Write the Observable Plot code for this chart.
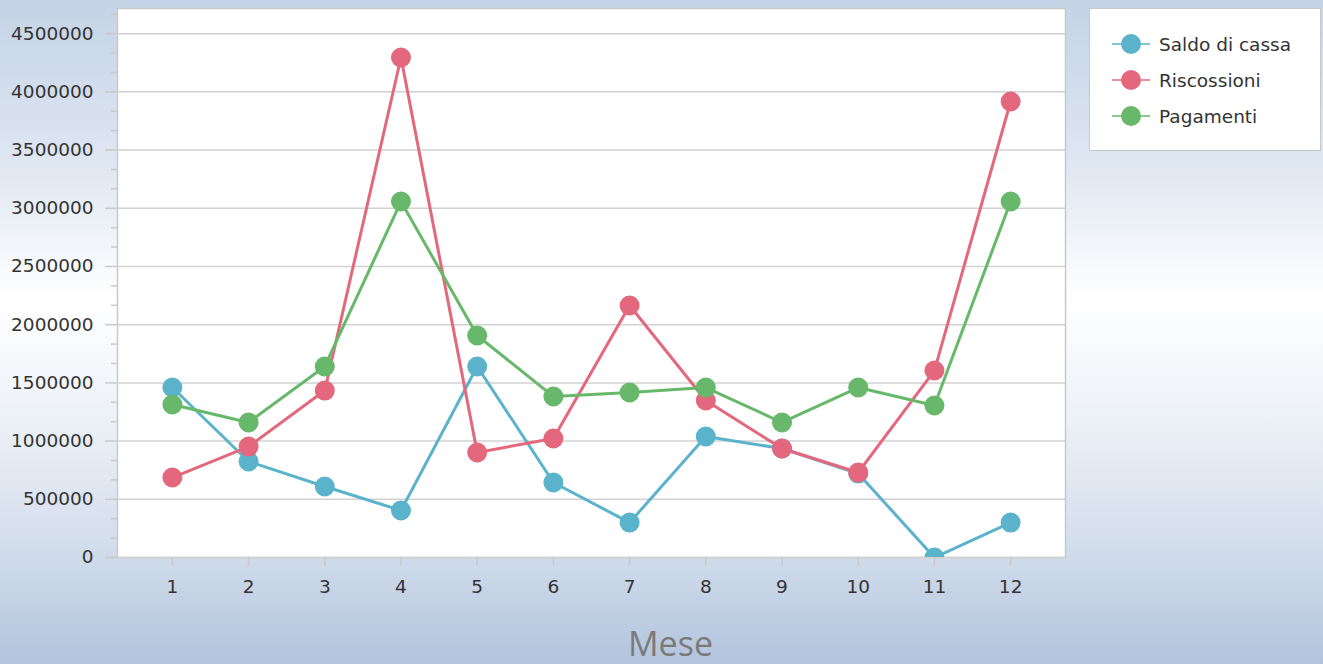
<!DOCTYPE html>
<html>
<head>
<meta charset="utf-8">
<script src="https://cdn.jsdelivr.net/npm/d3@7"></script>
<script src="https://cdn.jsdelivr.net/npm/@observablehq/plot@0.6"></script>
<style>
  html, body { margin: 0; padding: 0; }
  body {
    width: 1323px; height: 664px; overflow: hidden; position: relative;
    background: linear-gradient(to bottom, #c4d3e6 0%, #dfe7f2 25%, #ffffff 45%, #eef2f8 62%, #d3deec 82%, #b2c4dd 100%);
    font-family: "DejaVu Sans", sans-serif;
  }
  #chart { position: absolute; left: 0; top: 0; }
  #legend {
    position: absolute; left: 1089px; top: 8px; width: 232px; height: 143px;
    background: #fff; border: 1px solid #c8c8c8; box-sizing: border-box;
  }
  .row { position: absolute; left: 22px; height: 24px; display: flex; align-items: center; }
  .row span { margin-left: 9px; font-size: 18.5px; color: #333; }
</style>
</head>
<body>
<div id="chart"></div>
<div id="legend"></div>
<script>
const months = [1,2,3,4,5,6,7,8,9,10,11,12];
const seriesNames = ["Saldo di cassa", "Riscossioni", "Pagamenti"];
const seriesColors = ["#5bb3cb", "#e4687d", "#67b86a"];
const saldoDiCassa = [1460000, 825000, 610000, 404000, 1641000, 644000, 300000, 1039000, 936000, 721000, 0, 300000];
const riscossioni  = [687000, 953000, 1434000, 4295000, 902000, 1022000, 2165000, 1349000, 936000, 730000, 1606000, 3917000];
const pagamenti    = [1314000, 1160000, 1641000, 3058000, 1907000, 1383000, 1417000, 1460000, 1160000, 1460000, 1306000, 3058000];
const yTicks = [0, 500000, 1000000, 1500000, 2000000, 2500000, 3000000, 3500000, 4000000, 4500000];
const yMinorTicks = d3.range(0, 4700000, 500000/3).map(Math.round).filter(v => v % 500000 !== 0 && Math.abs(v % 500000 - 500000) > 2);
const xLabel = "Mese";

const seriesValues = [saldoDiCassa, riscossioni, pagamenti];
const data = seriesNames.map((name, i) => months.map((m, j) => ({mese: m, value: seriesValues[i][j], serie: name})));

const seriesMarks = data.flatMap((d, i) => [
  Plot.line(d, {x: "mese", y: "value", stroke: seriesColors[i], strokeWidth: 3, clip: "frame"}),
  Plot.dot(d, {x: "mese", y: "value", fill: seriesColors[i], r: 10, clip: "frame"})
]);

const chart = Plot.plot({
  width: 1323, height: 664,
  marginLeft: 117, marginTop: 8, marginRight: 258, marginBottom: 107,
  style: {background: "transparent", fontFamily: "'DejaVu Sans', sans-serif", fontSize: "18.5px", color: "#333"},
  x: {domain: [0.28, 12.72]},
  y: {domain: [0, 4716000]},
  marks: [
    Plot.frame({fill: "white", stroke: "#c9c9c9", strokeWidth: 1.5}),
    Plot.gridY(yTicks, {stroke: "#d2d2d2", strokeOpacity: 1, strokeWidth: 1.5}),
    Plot.axisY(yTicks, {tickSize: 12, tickPadding: 12, stroke: "#c9c9c9", strokeWidth: 1.5, fill: "#333", tickFormat: d => String(d), label: null}),
    Plot.axisY(yMinorTicks, {tickSize: 6, stroke: "#c9c9c9", strokeWidth: 1.5, text: null, label: null}),
    Plot.axisX(months, {tickSize: 9, tickPadding: 13, stroke: "#c9c9c9", strokeWidth: 1.5, fill: "#333", tickFormat: d => String(d), label: null}),
    Plot.ruleY([0], {x1: 0.28 - 0.16, x2: 0.28, stroke: "#c9c9c9", strokeWidth: 1.5}),
    ...seriesMarks,
    Plot.text([xLabel], {frameAnchor: "bottom", dx: 79, dy: 98, fontSize: 34, fill: "#7a7a7a", lineAnchor: "bottom", fontFamily: "'Open Sans', sans-serif"})
  ]
});
document.getElementById("chart").appendChild(chart);

const legend = document.getElementById("legend");
seriesNames.forEach((name, i) => {
  const row = document.createElement("div");
  row.className = "row";
  row.style.top = (23 + i * 36) + "px";
  row.innerHTML = `<svg width="38" height="24"><line x1="0" y1="12" x2="38" y2="12" stroke="${seriesColors[i]}" stroke-width="1.5"/><circle cx="19" cy="12" r="10" fill="${seriesColors[i]}"/></svg><span>${name}</span>`;
  legend.appendChild(row);
});
</script>
</body>
</html>
